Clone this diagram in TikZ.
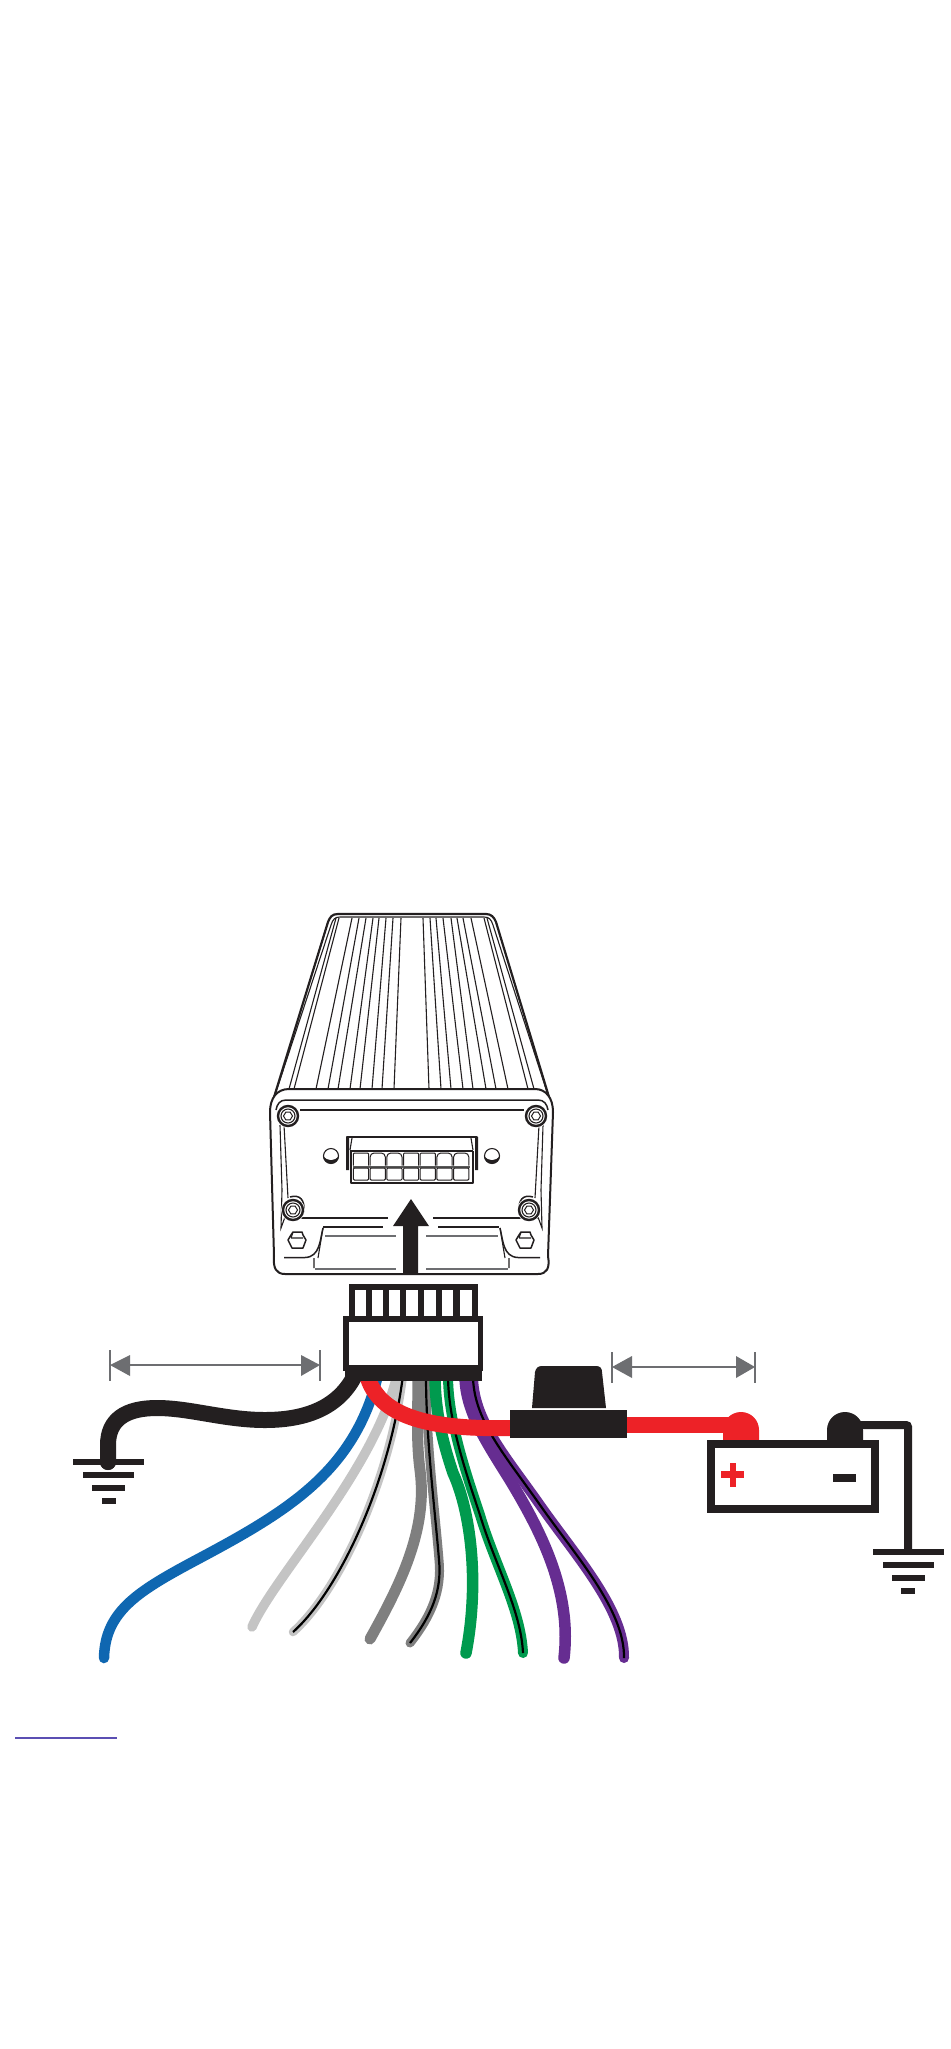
\documentclass[tikz,border=0pt]{standalone}
\definecolor{ink}{HTML}{231F20}
\definecolor{dimgray}{HTML}{6D6E71}
\definecolor{wblue}{HTML}{0F67B1}
\definecolor{wlight}{HTML}{C4C4C4}
\definecolor{wmid}{HTML}{7F7F7F}
\definecolor{wgreen}{HTML}{009A4E}
\definecolor{wpurple}{HTML}{662D91}
\definecolor{wred}{HTML}{ED2227}
\definecolor{ulink}{HTML}{5B4FB3}
\tikzset{
  wire/.style={line cap=round,line join=round},
  fin/.style={draw=ink,line width=1.1pt},
  outl/.style={draw=ink,line width=1.5pt,line join=round},
  heavy/.style={draw=ink,line width=2pt,line join=round},
  greyln/.style={draw=dimgray,line width=1.5pt},
  dimln/.style={draw=dimgray,line width=2pt},
  dimhead/.style={fill=dimgray,draw=none},
  blk/.style={fill=ink,draw=none},
}
\newcommand{\wireplain}[3]{\draw[wire,draw=#1,line width=#2] #3;}
\newcommand{\wirestripe}[3]{\draw[wire,draw=#1,line width=#2] #3;
  \draw[draw=black,line width=2.2pt] #3;}
\newcommand{\screw}[2]{%
  \fill[white] (#1,#2) circle (12);
  \draw[ink,line width=2.4pt] (#1,#2) circle (10);
  \draw[ink,line width=1.1pt] (#1,#2) circle (7);
  \draw[ink,line width=1pt] (#1-4.5,#2) -- (#1-2.2,#2-3.8) -- (#1+2.2,#2-3.8) -- (#1+4.5,#2) -- (#1+2.2,#2+3.8) -- (#1-2.2,#2+3.8) -- cycle;}
\newcommand{\groundsym}[2]{%
  \fill[blk] (#1-35.5,#2) rectangle (#1+35.5,#2+6);
  \fill[blk] (#1-25.5,#2+13) rectangle (#1+25.5,#2+19);
  \fill[blk] (#1-16.5,#2+26) rectangle (#1+16.5,#2+32);
  \fill[blk] (#1-7,#2+39) rectangle (#1+7,#2+45);}
\begin{document}
\begin{tikzpicture}[x=1pt,y=-1pt]
\useasboundingbox (0,0) rectangle (950,2049);
\fill[white] (0,0) rectangle (950,2049);

% heat sink body
\draw[heavy,line width=2.2pt] (271,1107) -- (328,922) .. controls (330,917) and (332,914) .. (338,914) -- (486,914) .. controls (491,914) and (494,917) .. (496,922) -- (552,1107);
\draw[fin] (276,1092) -- (331,925) .. controls (333,919) and (335,917) .. (340,917) -- (484,917) .. controls (489,917) and (491,919) .. (493,925) -- (547,1092);
\foreach \a/\b in {336/289,339/294,352/316,359/328,366/338,373/350,379/360,386/372,393/382,401/394,423/429,430/441,436/451,443/463,451/473,457/486,463/496,471/508,484/528,487/534}
  \draw[fin] (\a,918) -- (\b,1089);

% front plate
\draw[heavy,fill=white] (270,1112) .. controls (270,1098) and (277,1089) .. (289,1089) -- (535,1089) .. controls (546,1089) and (553,1098) .. (553,1112) -- (548,1256) .. controls (550,1268) and (547,1274) .. (538,1274) -- (285,1274) .. controls (276,1274) and (273,1268) .. (274,1256) -- cycle;
\draw[outl] (276,1110) .. controls (277,1104) and (280,1100) .. (286,1100) -- (538,1100) .. controls (544,1100) and (547,1104) .. (548,1110);
\draw[heavy] (300,1109.5) -- (524,1109.5);
% side rails
\draw[fin] (280,1125) -- (282,1190) -- (281,1228) -- (285,1217) (284,1125) -- (288,1198);
\draw[fin] (543,1125) -- (541,1190) -- (542,1228) -- (538,1217) (539,1125) -- (535,1198);
% foot lines
\draw[outl] (285,1218) -- (388,1218) (433,1218) -- (538,1218);
\draw[outl] (323,1227) -- (383,1227) (438,1227) -- (499,1227);
\draw[greyln] (325,1236) -- (396,1236) (426,1236) -- (498,1236);
\draw[greyln] (315,1269) -- (396,1269) (426,1269) -- (508,1269);
\draw[outl] (323,1228) .. controls (320,1240) and (320,1257) .. (305,1257.5) -- (284,1257.5);
\draw[fin] (323,1228) -- (318,1258) (314,1258) -- (314,1268);
\draw[outl] (500,1228) .. controls (503,1240) and (503,1257) .. (518,1257.5) -- (540,1257.5);
\draw[fin] (500,1228) -- (505,1258) (509,1258) -- (509,1268);
% feet bolts
\foreach \cx in {297,525} {
  \draw[outl] (\cx-9,1240) -- (\cx-6,1235) -- (\cx-4,1232) -- (\cx+5,1232) -- (\cx+6,1235) -- (\cx+9,1240) -- (\cx+6,1248) -- (\cx-5,1248) -- cycle;
  \draw[fin] (\cx-6,1238) -- (\cx+6,1238) (\cx-4,1232) -- (\cx-6,1238);
}
% screws
\screw{288}{1116}
\screw{536}{1116}
\draw[outl] (290,1197) .. controls (300,1194) and (305,1200) .. (304,1212);
\draw[outl] (533,1197) .. controls (523,1194) and (518,1200) .. (519,1212);
\screw{293}{1210}
\screw{529}{1210}
% small dimples
\foreach \cx in {331,492} {
  \draw[fin] (\cx,1156) ellipse (7.5 and 7.5);
  \fill[ink] (\cx-8,1155) .. controls (\cx-8,1166) and (\cx+8,1166) .. (\cx+8,1155) .. controls (\cx+5,1162) and (\cx-5,1162) .. (\cx-8,1155) -- cycle;
}
% connector on the unit
\draw[heavy] (347,1168) -- (347,1137) -- (477,1137) -- (477,1168);
\fill[ink] (346,1137) rectangle (349,1170) (475,1137) rectangle (478,1170);
\draw[fin] (352,1138) -- (350,1150) (471,1138) -- (473,1150);
\draw[outl] (350,1151) -- (473,1151);
\draw[heavy] (350.5,1151) -- (350.5,1182.5) -- (472.5,1182.5) -- (472.5,1151);
\fill[gray!70!black] (353,1165.5) rectangle (470,1168);
\foreach \i/\rc in {0/1,1/4,2/4,3/1,4/1,5/4,6/4} {
  \draw[ink,line width=1pt,fill=white,rounded corners=\rc pt] (353.4+16.7*\i,1165.5) -- ++(0,-12.5) -- ++(15.2,0) -- ++(0,12.5);
  \draw[ink,line width=1pt,fill=white,rounded corners=1pt] (353.4+16.7*\i,1168) rectangle ++(15.2,12);
}
% big arrow
\fill[blk] (403,1274) -- (403,1226) -- (393,1226) -- (411,1199) -- (429,1226) -- (418,1226) -- (418,1274) -- cycle;

% wires
\wireplain{wblue}{10.5pt}{(104,1658) .. controls (105,1610) and (140,1590) .. (200,1558) .. controls (290,1510) and (355,1470) .. (378,1375)}
\wireplain{wlight}{9.5pt}{(252,1627) .. controls (275,1575) and (375,1470) .. (397,1375)}
\wirestripe{wlight}{8.5pt}{(293,1632) .. controls (340,1590) and (390,1480) .. (403,1375)}
\wireplain{wmid}{11pt}{(370,1639) .. controls (400,1585) and (428,1530) .. (420,1470) .. controls (416,1440) and (418,1410) .. (418,1375)}
\wirestripe{wmid}{9pt}{(410,1643) .. controls (432,1615) and (442,1590) .. (439,1560) .. controls (435,1510) and (426,1440) .. (426,1375)}
\wirestripe{wgreen}{10pt}{(523,1653) .. controls (521,1610) and (495,1565) .. (480,1515) .. controls (465,1470) and (448,1420) .. (448,1375)}
\wireplain{wgreen}{11.5pt}{(466,1653) .. controls (480,1580) and (470,1510) .. (453,1473) .. controls (442,1440) and (435,1410) .. (435,1375)}
\wirestripe{wpurple}{10pt}{(624,1658) .. controls (625,1610) and (575,1555) .. (540,1505) .. controls (505,1455) and (473,1420) .. (473,1375)}
\wireplain{wpurple}{11.5pt}{(564,1658) .. controls (572,1590) and (540,1530) .. (510,1480) .. controls (485,1440) and (465,1410) .. (465,1375)}

% black wire to ground
\wireplain{ink}{16pt}{(108,1462) -- (108,1445) .. controls (108,1420) and (125,1408) .. (157,1408) .. controls (190,1408) and (225,1420) .. (265,1420) .. controls (310,1420) and (340,1405) .. (355,1375)}
% red wire
\draw[draw=wred,line width=16pt] (367,1375) .. controls (378,1415) and (425,1430) .. (512,1428);

% harness plug
\fill[blk] (349,1284) rectangle (478,1320);
\foreach \x/\w in {355/11,372/11,389/11,406/12,424/12,442/11,460/12}
  \fill[white] (\x,1290) rectangle ++(\w,26);
\fill[blk] (343,1316) rectangle (483,1371);
\fill[white] (349,1322) rectangle (478,1365);
\fill[blk] (345,1365) rectangle (482,1381);

% ground left
\groundsym{108.5}{1459}
\fill[ink] (108,1462) circle (8);

% dimension left
\draw[dimln] (110,1350) -- (110,1381) (320,1350) -- (320,1381);
\draw[dimln] (125,1365) -- (305,1365);
\fill[dimhead] (110,1365) -- (130,1355) -- (130,1376) -- cycle;
\fill[dimhead] (320,1365) -- (301,1355) -- (301,1376) -- cycle;
% dimension right
\draw[dimln] (612,1352) -- (612,1383) (755,1352) -- (755,1383);
\draw[dimln] (627,1367) -- (741,1367);
\fill[dimhead] (612,1367) -- (632,1356) -- (632,1378) -- cycle;
\fill[dimhead] (755,1367) -- (736,1356) -- (736,1378) -- cycle;

% fuse
\draw[draw=wred,line width=16pt] (625,1425) -- (745,1425);
\fill[blk] (532,1408) -- (535,1372) .. controls (536,1368) and (538,1366) .. (542,1366) -- (596,1366) .. controls (600,1366) and (602,1368) .. (602,1372) -- (606,1408) -- cycle;
\fill[blk] (510,1410) rectangle (627,1438);

% battery terminals
\fill[wred] (723,1441) -- (723,1430) .. controls (723,1420) and (731,1412) .. (741,1412) .. controls (751,1412) and (759,1420) .. (759,1430) -- (759,1441) -- cycle;
\draw[ink,line width=8pt,rounded corners=2pt] (860,1425) -- (908,1425) -- (908,1552);
\fill[ink] (827,1441) -- (827,1430) .. controls (827,1420) and (835,1412) .. (845,1412) .. controls (855,1412) and (863,1420) .. (863,1430) -- (863,1441) -- cycle;
% battery
\fill[blk] (707,1440) rectangle (879,1513);
\fill[white] (715,1448) rectangle (871,1505);
\fill[wred] (721,1471) rectangle (744,1478);
\fill[wred] (730,1463) rectangle (736,1487);
\fill[blk] (833,1474) rectangle (856,1482);
% ground right
\groundsym{908}{1549}

% underline
\draw[ulink,line width=1.2pt] (15,1738) -- (117,1738);
\end{tikzpicture}
\end{document}
